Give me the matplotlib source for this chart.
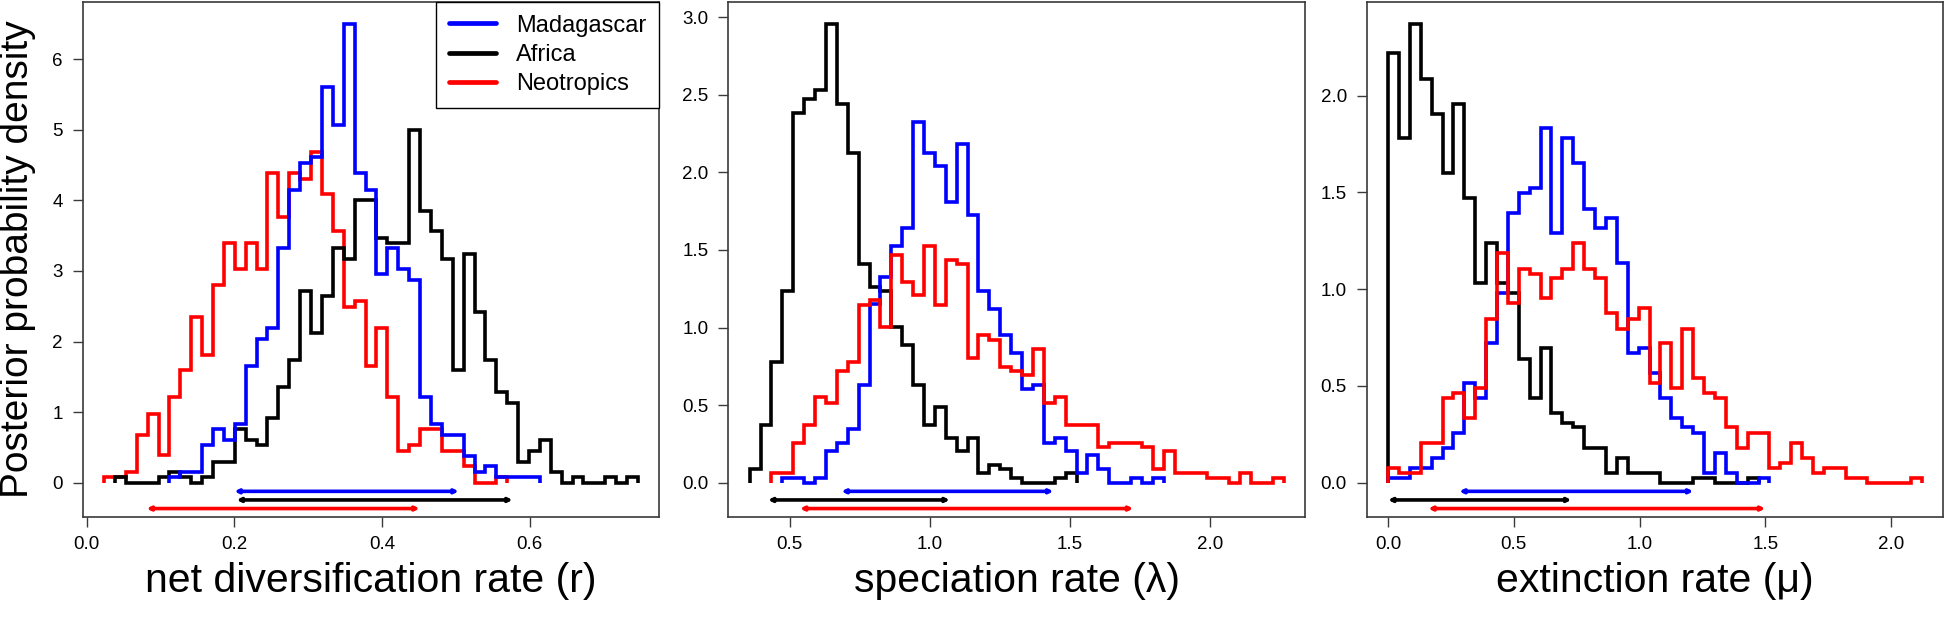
import numpy as np
import matplotlib
matplotlib.use("Agg")
import matplotlib.pyplot as plt
from matplotlib.lines import Line2D

plt.rcParams['font.family'] = ['Liberation Sans', 'DejaVu Sans']

regions = ['Madagascar', 'Africa', 'Neotropics']
colors = {'Madagascar': '#0000ff', 'Africa': 'black', 'Neotropics': '#ff0000'}

# ---- net diversification rate (r) ----
r_start = 0.02342
r_width = 0.014764
r_first_bin = {'Madagascar': 6, 'Africa': 1, 'Neotropics': 0}
r_dens = {
    'Madagascar': [0.075, 0.15, 0.15, 0.53, 0.76, 0.60, 0.83, 1.66, 2.04, 2.19, 3.32, 4.15,
                   4.53, 4.61, 5.60, 5.06, 6.50, 4.38, 4.15, 2.95, 3.32, 3.02, 2.87, 1.21,
                   0.83, 0.68, 0.68, 0.38, 0.15, 0.23, 0.075, 0.075, 0.075, 0.075],
    'Africa': [0.075, 0, 0, 0, 0.075, 0.15, 0.075, 0, 0.075, 0.30, 0.30, 0.76, 0.60, 0.53,
               0.92, 1.36, 1.74, 2.72, 2.12, 2.64, 3.32, 3.17, 4.00, 4.00, 3.47, 3.40, 3.40,
               4.99, 3.85, 3.56, 3.17, 1.59, 3.24, 2.42, 1.74, 1.28, 1.13, 0.30, 0.45, 0.60,
               0.15, 0, 0.075, 0, 0, 0.075, 0, 0.075],
    'Neotropics': [0.075, 0.075, 0.15, 0.68, 0.98, 0.39, 1.21, 1.60, 2.34, 1.81, 2.80, 3.40,
                   3.03, 3.40, 3.03, 4.38, 3.77, 4.38, 4.30, 4.68, 4.09, 3.56, 2.49, 2.57,
                   1.66, 2.19, 1.21, 0.45, 0.54, 0.76, 0.76, 0.45, 0.45, 0.23, 0, 0, 0.075],
}
r_hpd = {'Madagascar': (0.200, 0.504), 'Africa': (0.203, 0.577), 'Neotropics': (0.081, 0.451)}

# ---- speciation rate (lambda) ----
l_start = 0.3575
l_width = 0.0389
l_first_bin = {'Madagascar': 3, 'Africa': 0, 'Neotropics': 2}
l_dens = {
    'Madagascar': [0.030, 0.030, 0, 0.030, 0.202, 0.258, 0.344, 0.632, 1.15, 1.324, 1.522,
                   1.638, 2.325, 2.123, 2.042, 1.810, 2.183, 1.724, 1.234, 1.118, 0.950,
                   0.834, 0.606, 0.632, 0.258, 0.288, 0.202, 0.060, 0.176, 0.086, 0, 0,
                   0.030, 0, 0.030],
    'Africa': [0.086, 0.374, 0.778, 1.234, 2.381, 2.471, 2.532, 2.957, 2.439, 2.123, 1.408,
               1.264, 1.234, 1.006, 0.890, 0.632, 0.374, 0.490, 0.288, 0.202, 0.288, 0.060,
               0.116, 0.086, 0.030, 0, 0, 0, 0.030, 0.060],
    'Neotropics': [0.060, 0.060, 0.258, 0.374, 0.550, 0.516, 0.722, 0.778, 1.148, 1.178,
                   1.006, 1.466, 1.294, 1.208, 1.522, 1.148, 1.436, 1.408, 0.804, 0.950,
                   0.920, 0.748, 0.722, 0.692, 0.864, 0.516, 0.550, 0.374, 0.374, 0.374,
                   0.232, 0.258, 0.258, 0.258, 0.232, 0.086, 0.202, 0.060, 0.060, 0.060,
                   0.030, 0.030, 0, 0.060, 0, 0, 0.030],
}
l_hpd = {'Madagascar': (0.685, 1.442), 'Africa': (0.423, 1.072), 'Neotropics': (0.537, 1.727)}

# ---- extinction rate (mu) ----
m_start = 0.0
m_width = 0.04333
m_first_bin = {'Madagascar': 0, 'Africa': 0, 'Neotropics': 0}
m_dens = {
    'Madagascar': [0.024, 0.024, 0.076, 0.076, 0.128, 0.179, 0.259, 0.514, 0.438, 0.721,
                   0.979, 1.393, 1.497, 1.521, 1.831, 1.290, 1.779, 1.652, 1.417, 1.314,
                   1.366, 1.134, 0.672, 0.697, 0.566, 0.438, 0.334, 0.286, 0.259, 0.052,
                   0.155, 0.052, 0, 0, 0.024],
    'Africa': [2.221, 1.779, 2.372, 2.088, 1.907, 1.600, 1.959, 1.469, 1.031, 1.238, 1.031,
               0.979, 0.641, 0.438, 0.697, 0.359, 0.310, 0.286, 0.179, 0.179, 0.052, 0.128,
               0.052, 0.052, 0.052, 0, 0, 0, 0.024, 0.024, 0, 0, 0, 0.024],
    'Neotropics': [0.076, 0.052, 0.052, 0.203, 0.203, 0.438, 0.462, 0.334, 0.490, 0.848,
                   1.186, 0.928, 1.107, 1.079, 0.955, 1.059, 1.107, 1.238, 1.107, 1.059,
                   0.876, 0.797, 0.848, 0.903, 0.514, 0.724, 0.490, 0.797, 0.541, 0.462,
                   0.438, 0.286, 0.179, 0.255, 0.255, 0.076, 0.100, 0.207, 0.128, 0.052,
                   0.076, 0.076, 0.024, 0.024, 0, 0, 0, 0, 0.024],
}
m_hpd = {'Madagascar': (0.283, 1.214), 'Africa': (0.0, 0.729), 'Neotropics': (0.160, 1.500)}

panels = [
    ('net diversification rate (r)', r_start, r_width, r_first_bin, r_dens, r_hpd,
     [0.0, 0.2, 0.4, 0.6], np.arange(0, 7, 1), '{:.0f}'),
    ('speciation rate (λ)', l_start, l_width, l_first_bin, l_dens, l_hpd,
     [0.5, 1.0, 1.5, 2.0], np.arange(0, 3.01, 0.5), '{:.1f}'),
    ('extinction rate (μ)', m_start, m_width, m_first_bin, m_dens, m_hpd,
     [0.0, 0.5, 1.0, 1.5, 2.0], np.arange(0, 2.01, 0.5), '{:.1f}'),
]

W, H = 1946, 617
fig = plt.figure(figsize=(W / 100, H / 100), dpi=100)
lefts = [82.7, 728.3, 1366.7]
axw = 576.6
top, bottom = 1.7, 516.7

spine_col = '#3a3a3a'
lw = 2.6

for i, (xlabel, start, width, first, dens, hpd, xt, yt, yfmt) in enumerate(panels):
    ax = fig.add_axes([lefts[i] / W, (H - bottom) / H, axw / W, (bottom - top) / H])
    order = ['Neotropics', 'Africa', 'Madagascar'] if i == 0 else ['Africa', 'Madagascar', 'Neotropics']
    lo_edge, hi_edge = np.inf, -np.inf
    ymax = 0
    for reg in order:
        vals = np.array(dens[reg], dtype=float)
        e0 = start + first[reg] * width
        edges = e0 + width * np.arange(len(vals) + 1)
        ax.stairs(vals, edges, baseline=0, color=colors[reg], lw=lw)
        lo_edge = min(lo_edge, edges[0])
        hi_edge = max(hi_edge, edges[-1])
        ymax = max(ymax, vals.max())
    # HPD intervals below the histograms
    for k, reg in enumerate(regions):
        y = -0.01875 * (k + 1) * ymax
        a, b = hpd[reg]
        ax.annotate('', xy=(a, y), xytext=(b, y),
                    arrowprops=dict(arrowstyle='<->', color=colors[reg], lw=lw,
                                    mutation_scale=5, shrinkA=0, shrinkB=0))
    span = hi_edge - lo_edge
    ax.set_xlim(lo_edge - 0.04 * span, hi_edge + 0.04 * span)
    ax.set_ylim(-0.074 * ymax, 1.048 * ymax)
    ax.set_xticks(xt)
    ax.set_xticklabels(['{:.1f}'.format(v) for v in xt])
    ax.set_yticks(yt)
    ax.set_yticklabels([yfmt.format(v) for v in yt])
    ax.tick_params(direction='out', length=7.2, width=1.0, color=spine_col,
                   labelsize=13.5, pad=7)
    for s in ax.spines.values():
        s.set_color(spine_col)
        s.set_linewidth(1.2)
    ax.set_xlabel(xlabel, fontsize=29.5, labelpad=6)
    if i == 0:
        ax.set_ylabel('Posterior probability density', fontsize=28, labelpad=12)
        handles = [Line2D([0], [0], color=colors[r], lw=3.4, solid_capstyle='round') for r in regions]
        leg = ax.legend(handles, regions, loc='upper right', bbox_to_anchor=(1, 1),
                        borderaxespad=0, fontsize=17, handlelength=2.0, handletextpad=0.85,
                        labelspacing=0.3, borderpad=0.55, fancybox=False, framealpha=1,
                        edgecolor='black')
        leg.get_frame().set_linewidth(1.0)

fig.savefig('out.png', dpi=100)
